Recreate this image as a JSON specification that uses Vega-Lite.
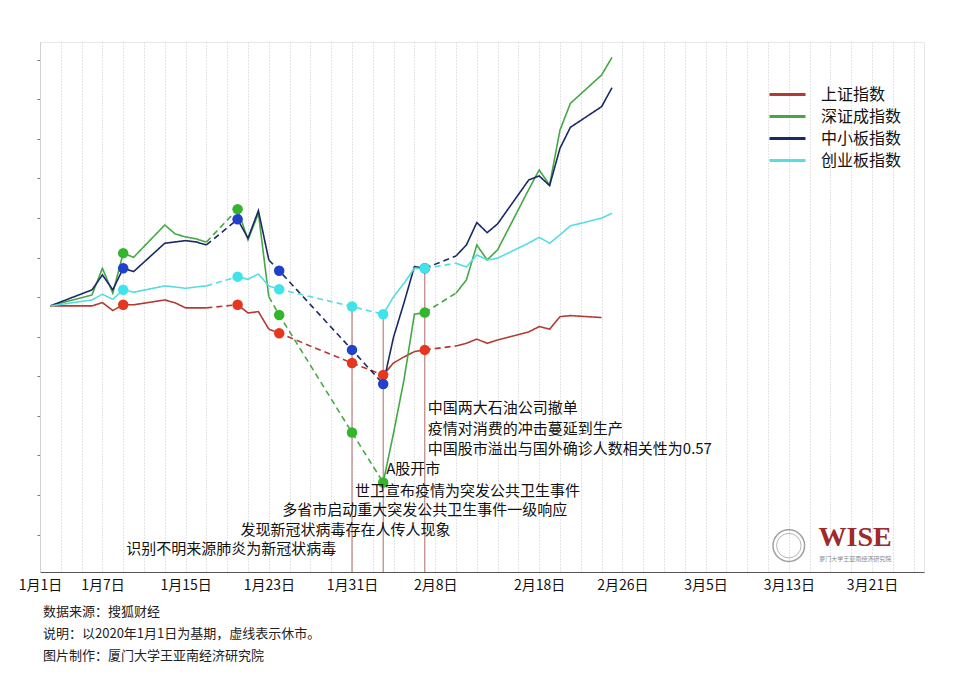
{
  "$schema": "https://vega.github.io/schema/vega-lite/v6.json",
  "width": 884,
  "height": 530,
  "autosize": {"type": "none"},
  "padding": {"left": 40, "top": 42, "right": 43, "bottom": 105},
  "background": "white",
  "config": {"view": {"stroke": "#e8e8e8"}, "font": "Noto Sans CJK SC"},
  "title": {
    "text": ["数据来源：搜狐财经", "说明：以2020年1月1日为基期，虚线表示休市。", "图片制作：厦门大学王亚南经济研究院"],
    "orient": "bottom", "anchor": "start", "frame": "group",
    "fontSize": 13, "fontWeight": "normal", "lineHeight": 22, "offset": 14, "dx": 3,
    "color": "#222", "font": "Noto Sans CJK SC"
  },
  "datasets": {
    "series": [
      {"d": "2020/01/02", "p": "A", "market": "开市", "上证指数": 0, "深证成指数": 0, "中小板指数": 0, "创业板指数": 0},
      {"d": "2020/01/06", "p": "A", "market": "开市", "上证指数": 0, "深证成指数": 0.5, "中小板指数": 0.73, "创业板指数": 0.27},
      {"d": "2020/01/07", "p": "A", "market": "开市", "上证指数": 0.15, "深证成指数": 1.71, "中小板指数": 1.41, "创业板指数": 0.53},
      {"d": "2020/01/08", "p": "A", "market": "开市", "上证指数": -0.21, "深证成指数": 0.58, "中小板指数": 0.73, "创业板指数": 0.3},
      {"d": "2020/01/09", "p": "A", "market": "开市", "上证指数": 0.05, "深证成指数": 2.4, "中小板指数": 1.71, "创业板指数": 0.73},
      {"d": "2020/01/10", "p": "A", "market": "开市", "上证指数": 0.05, "深证成指数": 2.21, "中小板指数": 1.56, "创业板指数": 0.62},
      {"d": "2020/01/13", "p": "A", "market": "开市", "上证指数": 0.27, "深证成指数": 3.68, "中小板指数": 2.85, "创业板指数": 0.91},
      {"d": "2020/01/14", "p": "A", "market": "开市", "上证指数": 0.14, "深证成指数": 3.27, "中小板指数": 2.91, "创业板指数": 0.86},
      {"d": "2020/01/15", "p": "A", "market": "开市", "上证指数": -0.09, "深证成指数": 3.14, "中小板指数": 2.97, "创业板指数": 0.8},
      {"d": "2020/01/16", "p": "A", "market": "开市", "上证指数": -0.09, "深证成指数": 3.05, "中小板指数": 2.91, "创业板指数": 0.86},
      {"d": "2020/01/17", "p": "A", "market": "开市", "上证指数": -0.09, "深证成指数": 2.9, "中小板指数": 2.77, "创业板指数": 0.91},
      {"d": "2020/01/17", "p": "E", "market": "休市", "上证指数": -0.09, "深证成指数": 2.9, "中小板指数": 2.77, "创业板指数": 0.91},
      {"d": "2020/01/20", "p": "E", "market": "休市", "上证指数": 0.05, "深证成指数": 4.4, "中小板指数": 3.94, "创业板指数": 1.33},
      {"d": "2020/01/20", "p": "B", "market": "开市", "上证指数": 0.05, "深证成指数": 4.4, "中小板指数": 3.94, "创业板指数": 1.33},
      {"d": "2020/01/21", "p": "B", "market": "开市", "上证指数": -0.32, "深证成指数": 3.0, "中小板指数": 3.08, "创业板指数": 1.21},
      {"d": "2020/01/22", "p": "B", "market": "开市", "上证指数": -0.26, "深证成指数": 4.21, "中小板指数": 4.33, "创业板指数": 1.45},
      {"d": "2020/01/23", "p": "B", "market": "开市", "上证指数": -1.06, "深证成指数": 0.42, "中小板指数": 2.09, "创业板指数": 0.91},
      {"d": "2020/01/23", "p": "F", "market": "休市", "上证指数": -1.06, "深证成指数": 0.42, "中小板指数": 2.09, "创业板指数": 0.91},
      {"d": "2020/01/24", "p": "F", "market": "休市", "上证指数": -1.24, "深证成指数": -0.41, "中小板指数": 1.6, "创业板指数": 0.76},
      {"d": "2020/01/31", "p": "F", "market": "休市", "上证指数": -2.6, "深证成指数": -5.76, "中小板指数": -2.0, "创业板指数": -0.03},
      {"d": "2020/02/03", "p": "F", "market": "休市", "上证指数": -3.14, "深证成指数": -8.03, "中小板指数": -3.55, "创业板指数": -0.38},
      {"d": "2020/02/03", "p": "C", "market": "开市", "上证指数": -3.14, "深证成指数": -8.03, "中小板指数": -3.55, "创业板指数": -0.38},
      {"d": "2020/02/04", "p": "C", "market": "开市", "上证指数": -2.59, "深证成指数": -5.77, "中小板指数": -1.41, "创业板指数": 0.42},
      {"d": "2020/02/05", "p": "C", "market": "开市", "上证指数": -2.32, "深证成指数": -3.36, "中小板指数": 0.14, "创业板指数": 1.03},
      {"d": "2020/02/06", "p": "C", "market": "开市", "上证指数": -2.08, "深证成指数": -0.38, "中小板指数": 1.79, "创业板指数": 1.71},
      {"d": "2020/02/07", "p": "C", "market": "开市", "上证指数": -2.0, "深证成指数": -0.3, "中小板指数": 1.71, "创业板指数": 1.71},
      {"d": "2020/02/07", "p": "G", "market": "休市", "上证指数": -2.0, "深证成指数": -0.3, "中小板指数": 1.71, "创业板指数": 1.71},
      {"d": "2020/02/10", "p": "G", "market": "休市", "上证指数": -1.82, "深证成指数": 0.58, "中小板指数": 2.27, "创业板指数": 1.94},
      {"d": "2020/02/10", "p": "D", "market": "开市", "上证指数": -1.82, "深证成指数": 0.58, "中小板指数": 2.27, "创业板指数": 1.94},
      {"d": "2020/02/11", "p": "D", "market": "开市", "上证指数": -1.7, "深证成指数": 1.18, "中小板指数": 2.77, "创业板指数": 1.77},
      {"d": "2020/02/12", "p": "D", "market": "开市", "上证指数": -1.51, "深证成指数": 2.77, "中小板指数": 3.79, "创业板指数": 2.32},
      {"d": "2020/02/13", "p": "D", "market": "开市", "上证指数": -1.7, "深证成指数": 2.09, "中小板指数": 3.33, "创业板指数": 2.09},
      {"d": "2020/02/14", "p": "D", "market": "开市", "上证指数": -1.55, "深证成指数": 2.55, "中小板指数": 3.73, "创业板指数": 2.17},
      {"d": "2020/02/17", "p": "D", "market": "开市", "上证指数": -1.18, "深证成指数": 5.3, "中小板指数": 5.73, "创业板指数": 2.86},
      {"d": "2020/02/18", "p": "D", "market": "开市", "上证指数": -0.94, "深证成指数": 6.18, "中小板指数": 5.91, "创业板指数": 3.12},
      {"d": "2020/02/19", "p": "D", "market": "开市", "上证指数": -1.06, "深证成指数": 5.5, "中小板指数": 5.47, "创业板指数": 2.85},
      {"d": "2020/02/20", "p": "D", "market": "开市", "上证指数": -0.49, "深证成指数": 8.0, "中小板指数": 7.17, "创业板指数": 3.23},
      {"d": "2020/02/21", "p": "D", "market": "开市", "上证指数": -0.44, "深证成指数": 9.21, "中小板指数": 8.12, "创业板指数": 3.64},
      {"d": "2020/02/24", "p": "D", "market": "开市", "上证指数": -0.53, "深证成指数": 10.5, "中小板指数": 9.06, "创业板指数": 3.99},
      {"d": "2020/02/25", "p": "D", "market": "开市", "深证成指数": 11.3, "中小板指数": 9.92, "创业板指数": 4.21}
    ],
    "events": [
      {"d": "2020/01/09", "上证指数": 0.05, "深证成指数": 2.4, "中小板指数": 1.71, "创业板指数": 0.73},
      {"d": "2020/01/20", "上证指数": 0.05, "深证成指数": 4.4, "中小板指数": 3.94, "创业板指数": 1.33},
      {"d": "2020/01/24", "上证指数": -1.24, "深证成指数": -0.41, "中小板指数": 1.6, "创业板指数": 0.76},
      {"d": "2020/01/31", "上证指数": -2.6, "深证成指数": -5.76, "中小板指数": -2.0, "创业板指数": -0.03},
      {"d": "2020/02/03", "上证指数": -3.14, "深证成指数": -8.03, "中小板指数": -3.55, "创业板指数": -0.38},
      {"d": "2020/02/07", "上证指数": -2.0, "深证成指数": -0.3, "中小板指数": 1.71, "创业板指数": 1.71}
    ],
    "vlines": [
      {"d": "2020/01/31", "value": -0.03},
      {"d": "2020/02/03", "value": -0.38},
      {"d": "2020/02/07", "value": 1.71}
    ],
    "notes": [
      {"d": "2020/01/09", "value": -11.05, "note": "识别不明来源肺炎为新冠状病毒"},
      {"d": "2020/01/20", "value": -10.18, "note": "发现新冠状病毒存在人传人现象"},
      {"d": "2020/01/24", "value": -9.27, "note": "多省市启动重大突发公共卫生事件一级响应"},
      {"d": "2020/01/31", "value": -8.41, "note": "世卫宣布疫情为突发公共卫生事件"},
      {"d": "2020/02/03", "value": -7.41, "note": "A股开市"},
      {"d": "2020/02/07", "value": -6.5, "note": "中国股市溢出与国外确诊人数相关性为0.57"},
      {"d": "2020/02/07", "value": -5.59, "note": "疫情对消费的冲击蔓延到生产"},
      {"d": "2020/02/07", "value": -4.64, "note": "中国两大石油公司撤单"}
    ]
  },
  "encoding": {
    "x": {
      "field": "d", "type": "temporal",
      "scale": {"domain": [{"year": 2020, "month": 1, "date": 1}, {"year": 2020, "month": 3, "date": 26}]},
      "axis": {
        "title": null,
        "values": [
          {"year": 2020, "month": 1, "date": 1}, {"year": 2020, "month": 1, "date": 3}, {"year": 2020, "month": 1, "date": 5}, {"year": 2020, "month": 1, "date": 7},
          {"year": 2020, "month": 1, "date": 9}, {"year": 2020, "month": 1, "date": 11}, {"year": 2020, "month": 1, "date": 13}, {"year": 2020, "month": 1, "date": 15},
          {"year": 2020, "month": 1, "date": 17}, {"year": 2020, "month": 1, "date": 19}, {"year": 2020, "month": 1, "date": 21}, {"year": 2020, "month": 1, "date": 23},
          {"year": 2020, "month": 1, "date": 25}, {"year": 2020, "month": 1, "date": 27}, {"year": 2020, "month": 1, "date": 29}, {"year": 2020, "month": 1, "date": 31},
          {"year": 2020, "month": 2, "date": 2}, {"year": 2020, "month": 2, "date": 4}, {"year": 2020, "month": 2, "date": 6}, {"year": 2020, "month": 2, "date": 8},
          {"year": 2020, "month": 2, "date": 10}, {"year": 2020, "month": 2, "date": 12}, {"year": 2020, "month": 2, "date": 14}, {"year": 2020, "month": 2, "date": 16},
          {"year": 2020, "month": 2, "date": 18}, {"year": 2020, "month": 2, "date": 20}, {"year": 2020, "month": 2, "date": 22}, {"year": 2020, "month": 2, "date": 24},
          {"year": 2020, "month": 2, "date": 26}, {"year": 2020, "month": 2, "date": 28}, {"year": 2020, "month": 3, "date": 1}, {"year": 2020, "month": 3, "date": 3},
          {"year": 2020, "month": 3, "date": 5}, {"year": 2020, "month": 3, "date": 7}, {"year": 2020, "month": 3, "date": 9}, {"year": 2020, "month": 3, "date": 11},
          {"year": 2020, "month": 3, "date": 13}, {"year": 2020, "month": 3, "date": 15}, {"year": 2020, "month": 3, "date": 17}, {"year": 2020, "month": 3, "date": 19},
          {"year": 2020, "month": 3, "date": 21}, {"year": 2020, "month": 3, "date": 23}, {"year": 2020, "month": 3, "date": 25}
        ],
        "labelExpr": "indexof(['1/1','1/7','1/15','1/23','1/31','2/8','2/18','2/26','3/5','3/13','3/21'], timeFormat(datum.value,'%-m/%-d')) >= 0 ? timeFormat(datum.value,'%-m月%-d日') : ''",
        "grid": true, "gridDash": [1, 2], "gridColor": "#c8c8c8", "gridWidth": 1,
        "ticks": false, "domainColor": "#555", "domainWidth": 1.2,
        "labelFontSize": 14, "labelColor": "#111", "labelPadding": 6,
        "labelOverlap": false, "labelFlush": false, "labelBound": false
      }
    },
    "y": {
      "field": "value", "type": "quantitative",
      "scale": {"domain": [-12.1, 12], "nice": false, "zero": false},
      "axis": {
        "title": null, "labels": false, "grid": false,
        "values": [11.2, 9.4, 7.6, 5.8, 4.0, 2.2, 0.4, -1.4, -3.2, -5.0, -6.8, -8.6, -10.4],
        "domainColor": "#d0d0d0", "tickColor": "#777", "tickSize": 3
      }
    }
  },
  "layer": [
    {
      "data": {"name": "vlines"},
      "mark": {"type": "rule", "color": "#b06a66", "strokeWidth": 1},
      "encoding": {"y2": {"datum": -12.1}}
    },
    {
      "data": {"name": "series"},
      "transform": [
        {"fold": ["上证指数", "深证成指数", "中小板指数", "创业板指数"], "as": ["series", "value"]},
        {"filter": "isValid(datum.value)"}
      ],
      "mark": {"type": "line", "strokeWidth": 1.6},
      "encoding": {
        "color": {
          "field": "series", "type": "nominal",
          "scale": {"domain": ["上证指数", "深证成指数", "中小板指数", "创业板指数"], "range": ["#b23a32", "#45a845", "#1b2a66", "#55dde2"]},
          "legend": {
            "title": null, "orient": "none", "legendX": 736, "legendY": 41,
            "symbolType": "M-1.8,0H1.8", "symbolStrokeWidth": 3, "symbolSize": 400,
            "labelFontSize": 16, "labelColor": "#111", "labelOffset": 22, "rowPadding": 2
          }
        },
        "strokeDash": {
          "field": "market", "type": "nominal",
          "scale": {"domain": ["开市", "休市"], "range": [[1, 0], [6, 4]]},
          "legend": null
        },
        "detail": {"field": "p"}
      }
    },
    {
      "data": {"name": "events"},
      "transform": [
        {"fold": ["上证指数", "深证成指数", "中小板指数", "创业板指数"], "as": ["series", "value"]}
      ],
      "mark": {"type": "point", "filled": true, "size": 110, "opacity": 1},
      "encoding": {
        "fill": {
          "field": "series", "type": "nominal",
          "scale": {"domain": ["上证指数", "深证成指数", "中小板指数", "创业板指数"], "range": ["#e5361f", "#33b52c", "#2140cc", "#3fe3ea"]},
          "legend": null
        }
      }
    },
    {
      "data": {"name": "notes"},
      "mark": {"type": "text", "align": "left", "baseline": "middle", "dx": 3, "fontSize": 15, "color": "#111"},
      "encoding": {"text": {"field": "note"}}
    },
    {
      "data": {"values": [{"d": "2020/03/13", "value": -10.9}]},
      "mark": {"type": "point", "shape": "circle", "size": 1000, "filled": false, "stroke": "#777", "strokeWidth": 1.5}
    },
    {
      "data": {"values": [{"d": "2020/03/13", "value": -10.9}]},
      "mark": {"type": "point", "shape": "circle", "size": 600, "filled": false, "stroke": "#999", "strokeWidth": 1}
    },
    {
      "data": {"values": [{"d": "2020/03/19", "value": -10.55, "label": "WISE"}]},
      "mark": {"type": "text", "align": "center", "baseline": "middle", "dx": 4, "font": "Liberation Serif", "fontWeight": "bold", "fontSize": 28, "color": "#9e2a2b"},
      "encoding": {"text": {"field": "label"}}
    },
    {
      "data": {"values": [{"d": "2020/03/19", "value": -11.5, "label": "厦门大学王亚南经济研究院"}]},
      "mark": {"type": "text", "align": "center", "baseline": "middle", "dx": 4, "fontSize": 6, "color": "#888"},
      "encoding": {"text": {"field": "label"}}
    }
  ]
}
